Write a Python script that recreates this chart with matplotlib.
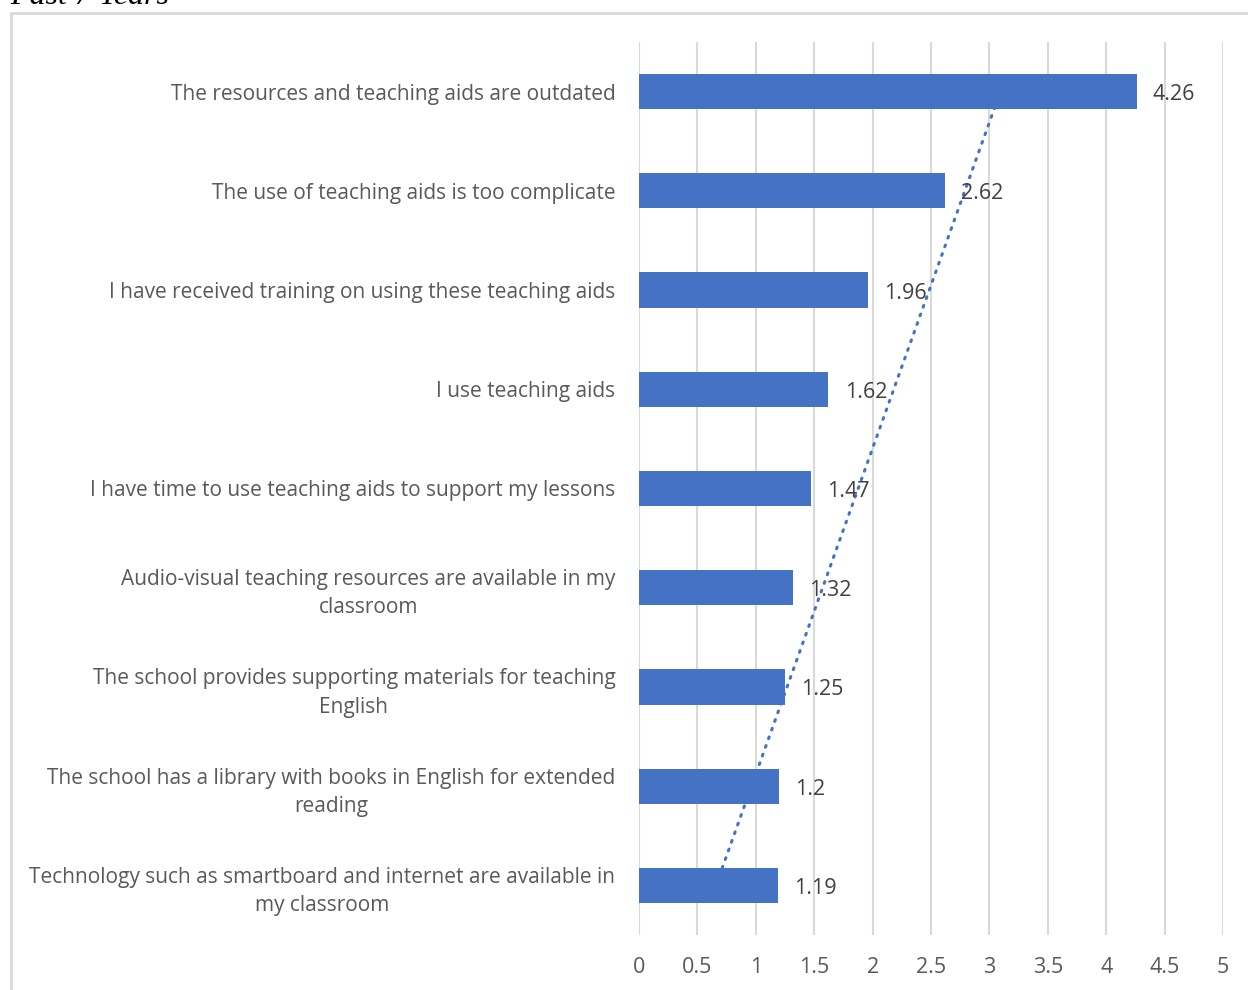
import numpy as np
import matplotlib
matplotlib.use("Agg")
import matplotlib.pyplot as plt
from matplotlib.patches import Rectangle

# categories listed top to bottom as in the chart
categories = [
    "The resources and teaching aids are outdated",
    "The use of teaching aids is too complicate",
    "I have received training on using these teaching aids",
    "I use teaching aids",
    "I have time to use teaching aids to support my lessons",
    "Audio-visual teaching resources are available in my\nclassroom",
    "The school provides supporting materials for teaching\nEnglish",
    "The school has a library with books in English for extended\nreading",
    "Technology such as smartboard and internet are available in\nmy classroom",
]
values = [4.26, 2.62, 1.96, 1.62, 1.47, 1.32, 1.25, 1.2, 1.19]
value_labels = ["4.26", "2.62", "1.96", "1.62", "1.47", "1.32", "1.25", "1.2", "1.19"]
xticks = [0, 0.5, 1, 1.5, 2, 2.5, 3, 3.5, 4, 4.5, 5]
xtick_labels = ["0", "0.5", "1", "1.5", "2", "2.5", "3", "3.5", "4", "4.5", "5"]

blue = "#4472C4"
grey_text = "#595959"
grid_col = "#D9D9D9"
font = "Open Sans"

fig = plt.figure(figsize=(12.48, 9.9), dpi=100)
ax = fig.add_axes([0.512, 0.0556, 0.468, 0.902])

n = len(categories)
ypos = np.arange(n)  # 0 = top row

# linear trendline (Excel style: x = category index counted from bottom)
xi = np.arange(1, n + 1)
vals_bottom_up = values[::-1]
slope, intercept = np.polyfit(xi, vals_bottom_up, 1)
trend = slope * xi + intercept
ax.plot(trend, (n - xi), color=blue, lw=2.2, linestyle=(0, (0.6, 2.4)),
        dash_capstyle="round", zorder=1)

ax.barh(ypos, values, height=0.355, color=blue, zorder=2)

for y, v, lab in zip(ypos, values, value_labels):
    ax.text(v + 0.14, y + 0.03, lab, va="center", ha="left", fontsize=15.5,
            color="#404040", family=font, zorder=3)

ax.set_ylim(n - 0.5, -0.5)
ax.set_xlim(0, 5)
ax.set_yticks(ypos)
ax.set_yticklabels(categories, fontsize=15, color=grey_text, family=font,
                   multialignment="center", linespacing=1.45)
ax.set_xticks(xticks)
ax.set_xticklabels(xtick_labels, fontsize=15.5, color=grey_text, family=font)
ax.tick_params(axis="y", length=0, pad=17)
ax.tick_params(axis="x", length=0, pad=16)
ax.grid(axis="x", color=grid_col, lw=1.5, zorder=0)
ax.set_axisbelow(True)
for s in ax.spines.values():
    s.set_visible(False)

# chart border (extends beyond the cropped image)
fig.patches.append(Rectangle((11 / 1248, -0.05), 1.2, 1 - 13 / 990 + 0.05,
                             transform=fig.transFigure, fill=False,
                             edgecolor=grid_col, lw=2, clip_on=False))

fig.text(10 / 1248, 1 - 4 / 990, "Past 7 Years", fontsize=23, style="italic",
         family="Liberation Serif", ha="left", va="baseline", color="black")

fig.savefig("out.png", dpi=100)
